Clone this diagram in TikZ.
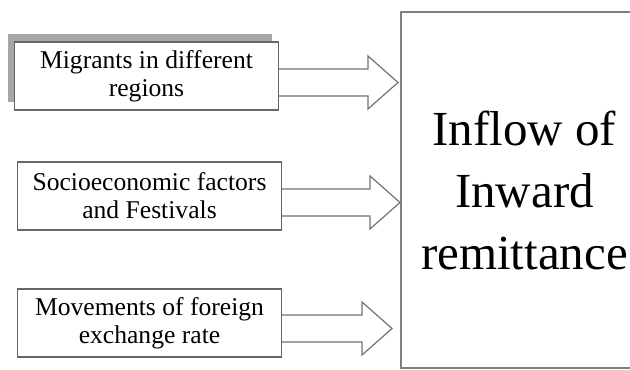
\documentclass[tikz,border=0pt]{standalone}
\usepackage{fontspec}
\setmainfont{Liberation Serif}
\usetikzlibrary{calc,shadows}

\begin{document}
\begin{tikzpicture}[x=0.5pt,y=-0.5pt]
  \tikzset{factor/.style = {shape=rectangle,draw=black!60,line width=0.6pt,fill=white,minimum width=132pt,minimum height=34pt,inner sep=1pt,align=center,font=\fontsize{12.8}{14}\selectfont}}
  \tikzset{sfactor/.style = {factor,general shadow={fill=black!35,shadow xshift=-3.5pt,shadow yshift=4pt}}}
  \tikzset{outcome/.style = {shape=rectangle,draw=black!50,line width=0.6pt,minimum width=123.5pt,minimum height=178pt,align=center,font=\fontsize{24.5}{31}\selectfont}}
  \tikzset{fat/.style = {draw=black!55,line width=0.6pt,fill=white,line join=miter}}

  \useasboundingbox (0,0) rectangle (630,369);
  \clip (0,0) rectangle (630,369);

	\node[sfactor] (mig) at (146.5,76) {Migrants in different\\regions};
	\node[factor] (soc) at (149.5,196) {Socioeconomic factors\\and Festivals};
	\node[factor] (fx) at (149.5,323) {Movements of foreign\\exchange rate};

	\node[outcome] (inflow) at (524.5,190) {Inflow of\\Inward\\remittance};

	\coordinate (t1) at (398,82.5);
	\coordinate (t2) at (400,202.5);
	\coordinate (t3) at (392,328.5);

    \foreach \from/\to in {mig/t1, soc/t2, fx/t3}
    \draw[fat] ($(\from.east |- \to)+(0,-13.5)$) -- ($(\to)+(-30,-13.5)$) -- ($(\to)+(-30,-26.5)$) -- (\to)
      -- ($(\to)+(-30,26.5)$) -- ($(\to)+(-30,13.5)$) -- ($(\from.east |- \to)+(0,13.5)$);

\end{tikzpicture}
\end{document}
